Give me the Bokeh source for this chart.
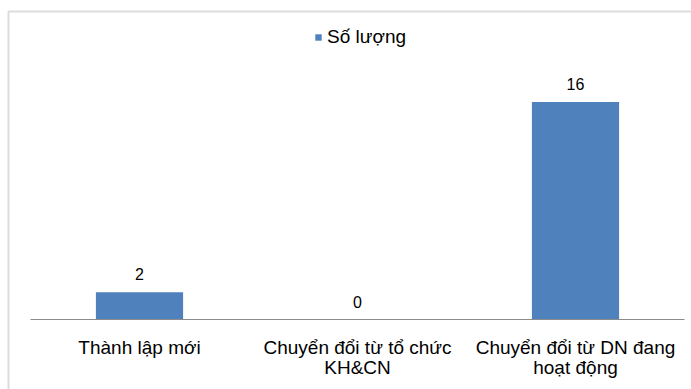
from bokeh.plotting import figure
from bokeh.models import (ColumnDataSource, Range1d, LabelSet,
                          Legend, LegendItem, BoxAnnotation)
from bokeh.core.properties import value
from bokeh.embed import file_html
from bokeh.resources import INLINE

categories = ["Thành lập mới", "Chuyển đổi từ tổ chức KH&CN",
              "Chuyển đổi từ DN đang hoạt động"]
tick_line1 = ["Thành lập mới", "Chuyển đổi từ tổ chức", "Chuyển đổi từ DN đang"]
tick_line2 = ["", "KH&CN", "hoạt động"]
values = [2, 0, 16]
series_name = "Số lượng"

FONT = "Liberation Sans"
BLUE = "#4F81BD"
GRAY = "#8C8C8C"

W, H = 691, 389
PX_PER_CAT = 218.0     # horizontal pixels per category
X0_PX = 30.0           # pixel of the left edge of the first category
PX_PER_UNIT = 13.6     # vertical pixels per value unit
BASE_PX = 319.0        # pixel row of the baseline (from top)

n = len(categories)
pos = [i + 0.5 for i in range(n)]

src = ColumnDataSource(dict(x=pos, cat=categories, val=values,
                            lbl=[str(v) for v in values],
                            l1=tick_line1, l2=tick_line2,
                            zero=[0] * n))

p = figure(width=W, height=H, output_backend="svg", toolbar_location=None,
           x_range=Range1d(-X0_PX / PX_PER_CAT, (W - X0_PX) / PX_PER_CAT),
           y_range=Range1d(-(H - BASE_PX) / PX_PER_UNIT, BASE_PX / PX_PER_UNIT),
           x_axis_location=None, y_axis_location=None,
           min_border=0)
p.background_fill_color = "white"
p.border_fill_color = "white"
p.outline_line_color = None
p.grid.visible = False

r = p.vbar(x="x", top="val", width=0.4, source=src,
           fill_color=BLUE, line_color=None)

# category axis line
p.segment(x0=[0], y0=[0], x1=[n], y1=[0], line_color=GRAY, line_width=1)

# value labels
p.add_layout(LabelSet(x="x", y="val", text="lbl", source=src,
                      text_align="center", text_baseline="alphabetic",
                      y_offset=12, text_font=value(FONT),
                      text_font_size="16px", text_color="black"))

# category labels (two lines)
for col, off in (("l1", -34), ("l2", -54)):
    p.add_layout(LabelSet(x="x", y="zero", text=col, source=src,
                          text_align="center", text_baseline="alphabetic",
                          y_offset=off, text_font=value(FONT),
                          text_font_size="19px", text_color="black"))

legend = Legend(items=[LegendItem(label=series_name, renderers=[r])],
                location=(314, 341), orientation="horizontal",
                border_line_color=None, background_fill_alpha=0,
                glyph_width=8, glyph_height=8, label_standoff=5,
                label_text_font=FONT, label_text_font_size="19px",
                label_text_color="black", padding=0, margin=0, spacing=0)
p.add_layout(legend)

border = BoxAnnotation(left=8, right=W + 20, top=11, bottom=H + 20,
                       left_units="canvas", right_units="canvas",
                       top_units="canvas", bottom_units="canvas",
                       fill_alpha=0, line_color=GRAY, line_width=2,
                       level="overlay")
p.add_layout(border)

open("out.html", "w").write(file_html(p, INLINE))
